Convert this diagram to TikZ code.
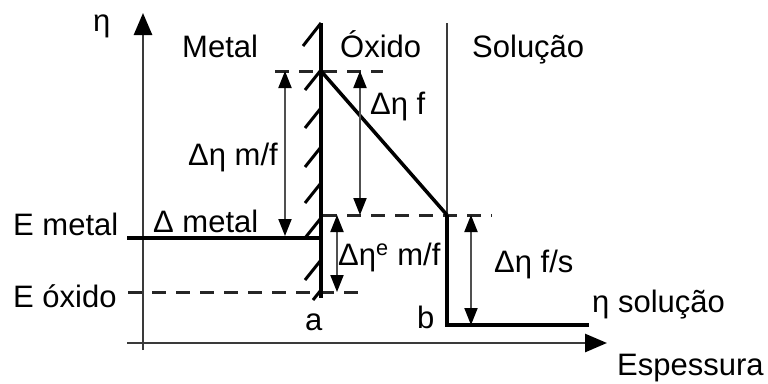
\documentclass[tikz,border=0pt]{standalone}
\usepackage{fontspec}
\setmainfont{Liberation Sans}
\usetikzlibrary{arrows.meta}
\definecolor{axisgray}{HTML}{3A3A3A}
\definecolor{dimgray}{HTML}{505050}
\begin{document}
\begin{tikzpicture}[x=1pt,y=-1pt,
  lbl/.style={anchor=base west,inner sep=0pt,font=\fontsize{31}{36}\selectfont},
  axisline/.style={draw=axisgray,line width=2.8pt,-{Triangle[width=18pt,length=22pt,color=black]}},
  heavy/.style={line width=4pt,black},
  dashline/.style={line width=3pt,dash pattern=on 14pt off 10pt,black!85},
  dimline/.style={draw=dimgray,line width=2pt,{Triangle[width=13pt,length=17pt,color=black]}-{Triangle[width=13pt,length=17pt,color=black]}},
  hatchline/.style={line width=3pt,black},
]
\useasboundingbox (0,0) rectangle (768,383);
% key points
\coordinate (yB) at (143,350); \coordinate (yT) at (143,13);
\coordinate (xL) at (127,343); \coordinate (xR) at (607,343);
\coordinate (wT) at (321,23); \coordinate (wB) at (321,298);
\coordinate (peak) at (321,71); \coordinate (knee) at (447,215);
\coordinate (sT) at (447,23); \coordinate (sC) at (447,325); \coordinate (sE) at (589,325);
\coordinate (mL) at (127,238); \coordinate (mR) at (321,238);
\coordinate (d1L) at (275,71); \coordinate (d1R) at (383,71);
\coordinate (d2L) at (323,215); \coordinate (d2R) at (492,215);
\coordinate (d3L) at (128,292); \coordinate (d3R) at (360,292);
\coordinate (a1t) at (285,71); \coordinate (a1b) at (285,236);
\coordinate (a2t) at (360,71); \coordinate (a2b) at (360,215);
\coordinate (a3t) at (337,215); \coordinate (a3b) at (337,292);
\coordinate (a4t) at (471,215); \coordinate (a4b) at (471,325);
% dashed levels
\draw[dashline] (d1L) -- (d1R);
\draw[dashline] (d2L) -- (d2R);
\draw[dashline] (d3L) -- (d3R);
% axes
\draw[axisline] (yB) -- (yT);
\draw[axisline] (xL) -- (xR);
% solution boundary (upper thin part)
\draw[draw=axisgray,line width=2.8pt] (sT) -- (knee);
% metal wall and hatching
\draw[heavy] (wT) -- (wB);
\draw[hatchline] (321,23) -- ++(-18,23);
\foreach \y in {70,108,147,183,218,260}
  \draw[hatchline] (321,\y) -- ++(-16,20);
\draw[hatchline] (321,290) -- ++(-8,10);
% potential profile
\draw[heavy] (mL) -- (mR);
\draw[line width=3.5pt] (peak) -- (knee);
\draw[heavy] (knee) -- (sC) -- (sE);
% dimension arrows
\draw[dimline] (a1t) -- (a1b);
\draw[dimline] (a2t) -- (a2b);
\draw[dimline] (a3t) -- (a3b);
\draw[dimline] (a4t) -- (a4b);
% labels
\node[lbl] (eta) at (93,31) {η};
\node[lbl] (metal) at (182,57) {Metal};
\node[lbl] (oxido) at (340,57) {Óxido};
\node[lbl] (solucao) at (472,57) {Solução};
\node[lbl] (dmf) at (188,165) {Δη m/f};
\node[lbl] (df) at (370,114) {Δη f};
\node[lbl] (demf) at (338,265) {Δη\textsuperscript{e} m/f};
\node[lbl] (dfs) at (494,272) {Δη f/s};
\node[lbl] (etasol) at (592,312) {η solução};
\node[lbl] (esp) at (617,375) {Espessura};
\node[lbl] (b) at (417,328) {b};
\node[lbl] (a) at (305,330) {a};
\node[lbl] (eox) at (13,307) {E óxido};
\node[lbl] (emet) at (13,235) {E metal};
\node[lbl] (dmet) at (153,232) {Δ metal};
\end{tikzpicture}
\end{document}
